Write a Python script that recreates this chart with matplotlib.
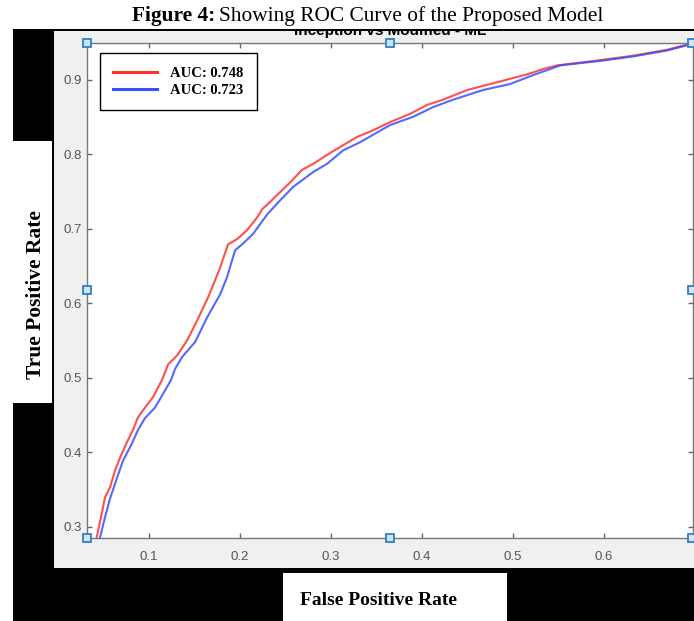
#!/usr/bin/env python3
"""
ROC 曲线截图复刻 — MATLAB 风格的图窗 + 黑色遮挡块
"""
import matplotlib
matplotlib.use("Agg")
import matplotlib.pyplot as plt
from matplotlib.patches import Rectangle

W, H = 694, 621

# ── 数据──
red_fpr = [0.0415, 0.0481, 0.0517, 0.0572, 0.0627, 0.0682, 0.0755, 0.0824, 0.0879,
           0.0956, 0.1044, 0.1143, 0.1210, 0.1309, 0.1419, 0.1529, 0.1650, 0.1727,
           0.1782, 0.1869, 0.1968, 0.2078, 0.2188, 0.2243, 0.2331, 0.2441, 0.2551,
           0.2683, 0.2804, 0.2957, 0.3133, 0.3287, 0.3463, 0.3650, 0.3869, 0.4056,
           0.4232, 0.4496, 0.4749, 0.4968, 0.5155, 0.5331, 0.5485, 0.5957, 0.6320,
           0.6694, 0.6946, 0.7000]
red_tpr = [0.280, 0.318, 0.340, 0.353, 0.376, 0.393, 0.413, 0.430, 0.447,
           0.460, 0.474, 0.497, 0.518, 0.530, 0.550, 0.577, 0.608, 0.631,
           0.648, 0.679, 0.686, 0.698, 0.715, 0.726, 0.736, 0.749, 0.762,
           0.779, 0.787, 0.799, 0.812, 0.823, 0.832, 0.843, 0.854, 0.866,
           0.873, 0.886, 0.894, 0.901, 0.907, 0.914, 0.919, 0.926, 0.932,
           0.940, 0.948, 0.950]

blue_fpr = [0.0450, 0.0517, 0.0572, 0.0649, 0.0715, 0.0813, 0.0879, 0.0956, 0.1066,
            0.1176, 0.1242, 0.1287, 0.1364, 0.1507, 0.1639, 0.1782, 0.1858, 0.1946,
            0.2023, 0.2144, 0.2298, 0.2441, 0.2584, 0.2804, 0.2957, 0.3133, 0.3320,
            0.3650, 0.3902, 0.4122, 0.4342, 0.4672, 0.4968, 0.5221, 0.5408, 0.5518,
            0.5957, 0.6320, 0.6694, 0.6946, 0.7000]
blue_tpr = [0.280, 0.313, 0.338, 0.366, 0.389, 0.412, 0.430, 0.446, 0.460,
            0.483, 0.497, 0.512, 0.528, 0.548, 0.581, 0.612, 0.635, 0.671,
            0.679, 0.693, 0.719, 0.738, 0.756, 0.776, 0.787, 0.805, 0.816,
            0.839, 0.850, 0.863, 0.873, 0.886, 0.894, 0.906, 0.914, 0.919,
            0.925, 0.931, 0.939, 0.947, 0.949]

x_ticks = [0.1, 0.2, 0.3, 0.4, 0.5, 0.6]
y_ticks = [0.3, 0.4, 0.5, 0.6, 0.7, 0.8, 0.9]
auc_labels = ["AUC: 0.748", "AUC: 0.723"]

SERIF = ["Liberation Serif", "DejaVu Serif"]
SANS = ["Liberation Sans", "DejaVu Sans"]

fig = plt.figure(figsize=(W / 100, H / 100), dpi=100, facecolor="white")

# 背景层：像素坐标，y 向下
bg = fig.add_axes([0, 0, 1, 1], zorder=0)
bg.set_xlim(0, W)
bg.set_ylim(H, 0)
bg.axis("off")


def block(x0, y0, x1, y1, color, z=1):
    r = Rectangle((x0, y0), x1 - x0, y1 - y0, facecolor=color, edgecolor="none",
                  zorder=z)
    bg.add_patch(r)
    return r


block(13, 29, W, H, "black")
block(54, 31, W, 568, "#f0f0f0")
block(13, 141, 52, 403, "white")
block(283, 573, 507, H, "white")

# 被遮住一半的 MATLAB 标题（上半截被白底 + 黑边盖住）
bg.text(389.75, 35, "Inception vs Modified - ML", ha="center", va="baseline",
        fontsize=11, fontweight="bold", family=SANS, zorder=1.5)
block(0, 0, W, 29, "white", z=2)
block(13, 29, W, 31, "black", z=2)

# 标题
bg.text(215, 21.5, "Figure 4:", ha="right", va="baseline", fontsize=15.4,
        fontweight="bold", family=SERIF, zorder=3)
bg.text(219, 21.5, "Showing ROC Curve of the Proposed Model", ha="left",
        va="baseline", fontsize=15.4, family=SERIF, zorder=3)

# 坐标轴标签（白色方块里）
bg.text(379, 605, "False Positive Rate", ha="center", va="baseline", fontsize=14,
        fontweight="bold", family=SERIF, zorder=3)
bg.text(36, 295, "True Positive Rate", ha="center", va="center", rotation=90,
        fontsize=15.5, fontweight="bold", family=SERIF, zorder=3)

# ── 主图 ──
L, R, T, B = 87, 692.5, 42.5, 537.5
ax = fig.add_axes([L / W, 1 - B / H, (R - L) / W, (B - T) / H], zorder=2)
ax.set_facecolor("white")
ax.plot(red_fpr, red_tpr, color="#ff3030", lw=1.5, alpha=0.85, label=auc_labels[0])
ax.plot(blue_fpr, blue_tpr, color="#3a4dff", lw=1.5, alpha=0.85, label=auc_labels[1])
ax.set_xlim(0.0319, 0.6973)
ax.set_ylim(0.2859, 0.9497)

ax.set_xticks(x_ticks)
ax.set_xticklabels([f"{v:.1f}" for v in x_ticks])
ax.set_yticks(y_ticks)
ax.set_yticklabels([f"{v:.1f}" for v in y_ticks])
ax.tick_params(direction="in", length=3.5, width=1, color="#666666",
               top=True, right=True, labelsize=9.5, labelcolor="#555555")
ax.tick_params(axis="x", pad=10)
ax.tick_params(axis="y", pad=3.5)
for lab in ax.get_xticklabels() + ax.get_yticklabels():
    lab.set_family(SANS)
for sp in ax.spines.values():
    sp.set_color("#777777")
    sp.set_linewidth(1.0)

leg = ax.legend(loc="upper left", bbox_to_anchor=(0.0215, 0.978), borderaxespad=0,
                frameon=True, fancybox=False, edgecolor="black", framealpha=1,
                prop=dict(family=SERIF, weight="bold", size=10.5),
                handlelength=3.0, handletextpad=0.9, borderpad=0.9, labelspacing=0.3)
leg.get_frame().set_linewidth(1.0)
for line in leg.get_lines():
    line.set_linewidth(2.2)
    line.set_alpha(1)

# ── MATLAB 编辑手柄（蓝色小方块）──
top = fig.add_axes([0, 0, 1, 1], zorder=3)
top.set_xlim(0, W)
top.set_ylim(H, 0)
top.axis("off")
mx, my = (L + R) / 2, (T + B) / 2
hx = [L, mx, R, L, R, L, mx, R]
hy = [T, T, T, my, my, B, B, B]
top.plot(hx, hy, "s", ms=5.5, mfc="#cfe6f8", mec="#2f80c8", mew=1.3, clip_on=False)

fig.savefig("out.png", dpi=100, facecolor="white")
